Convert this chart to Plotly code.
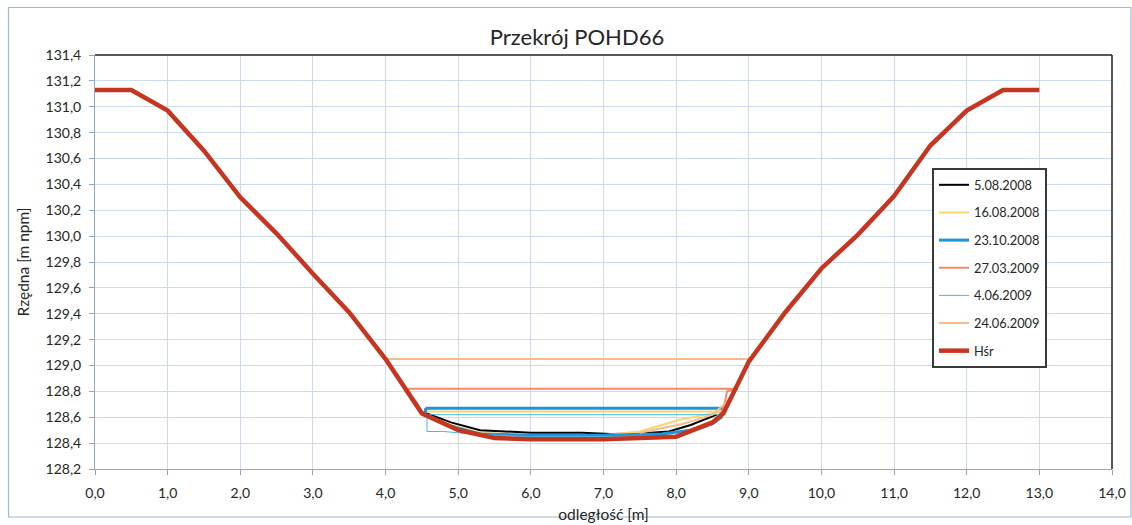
import plotly.graph_objects as go

# ---- data ----
hsr_x = [0, 0.5, 1, 1.5, 2, 2.5, 3, 3.5, 4, 4.5, 5, 5.5, 6, 6.5, 7, 7.5, 8, 8.5, 8.65, 9, 9.5, 10, 10.5, 11, 11.5, 12, 12.5, 13]
hsr_y = [131.13, 131.13, 130.97, 130.66, 130.30, 130.02, 129.71, 129.41, 129.05, 128.63, 128.50, 128.44, 128.43, 128.43,
         128.43, 128.44, 128.45, 128.56, 128.63, 129.03, 129.41, 129.75, 130.01, 130.31, 130.70, 130.97, 131.13, 131.13]

d0508_x = [4.52, 4.9, 5.3, 6.0, 6.7, 7.1, 7.5, 7.9, 8.2, 8.56]
d0508_y = [128.64, 128.56, 128.50, 128.48, 128.48, 128.47, 128.475, 128.49, 128.54, 128.62]

d1608_x = [4.55, 8.65, 8.5, 8.05, 7.5, 7.0, 6.0, 5.3, 4.9, 4.55, 4.55]
d1608_y = [128.645, 128.645, 128.63, 128.58, 128.49, 128.46, 128.46, 128.48, 128.54, 128.62, 128.645]

d2310_x = [4.55, 8.65, 8.62, 8.5, 8.2, 7.8, 7.0, 6.0, 5.3, 4.9, 4.55, 4.55]
d2310_y = [128.67, 128.67, 128.60, 128.55, 128.50, 128.47, 128.46, 128.46, 128.47, 128.53, 128.62, 128.67]

d2703_x = [4.45, 4.3, 8.85, 8.7, 8.66, 8.6]
d2703_y = [128.66, 128.82, 128.82, 128.80, 128.68, 128.62]

d0406_x = [4.57, 8.6, 8.6, 8.4, 8.0, 7.0, 6.0, 5.2, 4.8, 4.57, 4.57]
d0406_y = [128.62, 128.62, 128.58, 128.52, 128.46, 128.45, 128.45, 128.47, 128.49, 128.49, 128.62]

d2406_x = [4.45, 4.3, 3.98, 9.0, 8.85, 8.7, 8.5, 8.1, 7.5]
d2406_y = [128.70, 128.80, 129.05, 129.05, 128.85, 128.72, 128.62, 128.55, 128.48]

series = [
    ("5.08.2008", d0508_x, d0508_y, "#000000", 2),
    ("16.08.2008", d1608_x, d1608_y, "#FFD470", 2),
    ("23.10.2008", d2310_x, d2310_y, "#1B95DB", 3),
    ("27.03.2009", d2703_x, d2703_y, "#F4896B", 2),
    ("4.06.2009", d0406_x, d0406_y, "#45B8E6", 1),
    ("24.06.2009", d2406_x, d2406_y, "#F5BB8E", 2),
    ("Hśr", hsr_x, hsr_y, "#C6351F", 4.5),
]

fig = go.Figure()
for i, (name, xs, ys, col, w) in enumerate(series):
    fig.add_trace(go.Scatter(x=xs, y=ys, mode="lines", name=name, legendgroup=f"g{i}",
                             line=dict(color=col, width=w)))

W, H = 1132, 525
L, R, T, B = 95, 20, 55, 56
pw, ph = W - L - R, H - T - B

def px(xp):
    return (xp - L) / pw

def py(yp):
    return (H - B - yp) / ph

font = "Lato, 'Open Sans', sans-serif"
axcol = "#8AAAC8"
fig.update_layout(
    width=W, height=H,
    margin=dict(l=L, r=R, t=T, b=B, autoexpand=False),
    paper_bgcolor="white", plot_bgcolor="white",
    separators=", ",
    font=dict(family=font, color="#262626", size=14),
    title=dict(text="Przekrój POHD66", x=577 / W, xanchor="center", y=1 - 37 / H,
               yanchor="middle", font=dict(size=22, color="#262626")),
    xaxis=dict(range=[0, 14], dtick=1, tick0=0, tickformat=".1f", showgrid=True, gridcolor="#CADCEE",
               gridwidth=1, showline=True, linecolor=axcol, linewidth=1, ticks="outside", ticklen=5,
               tickcolor=axcol, zeroline=False, ticklabelstandoff=6, automargin=False,
               tickfont=dict(size=14),
               title=dict(text="odległość [m]", standoff=9, font=dict(size=15.5))),
    yaxis=dict(range=[128.2, 131.4], dtick=0.2, tick0=128.2, tickformat=".1f", showgrid=True,
               gridcolor="#CADCEE", gridwidth=1, showline=True, linecolor=axcol, linewidth=1,
               ticks="outside", ticklen=5, tickcolor=axcol, zeroline=False, ticklabelstandoff=5,
               automargin=False, tickfont=dict(size=14),
               title=dict(text="Rzędna [m npm]", standoff=12, font=dict(size=15.5))),
    legend=dict(x=px(932), y=py(168), xanchor="left", yanchor="top", bgcolor="white",
                bordercolor="#3A3A3A", borderwidth=2, font=dict(size=12.8, color="#262626"),
                tracegroupgap=8, itemwidth=30),
    showlegend=True,
)

# plot area top/right border and outer frame
fig.add_shape(type="line", xref="paper", yref="paper", x0=0, x1=1, y0=1, y1=1,
              line=dict(color="#222222", width=1.5))
fig.add_shape(type="line", xref="paper", yref="paper", x0=1, x1=1, y0=0, y1=1,
              line=dict(color="#222222", width=1.5))
fig.add_shape(type="rect", xref="paper", yref="paper", x0=px(8.5), x1=px(1131), y0=py(517), y1=py(7.5),
              line=dict(color="#9DBAD6", width=1.2), layer="below")

fig.write_html("out.html", config={"displayModeBar": False},
               post_script="document.body.style.margin='0';document.body.style.overflow='hidden';")
